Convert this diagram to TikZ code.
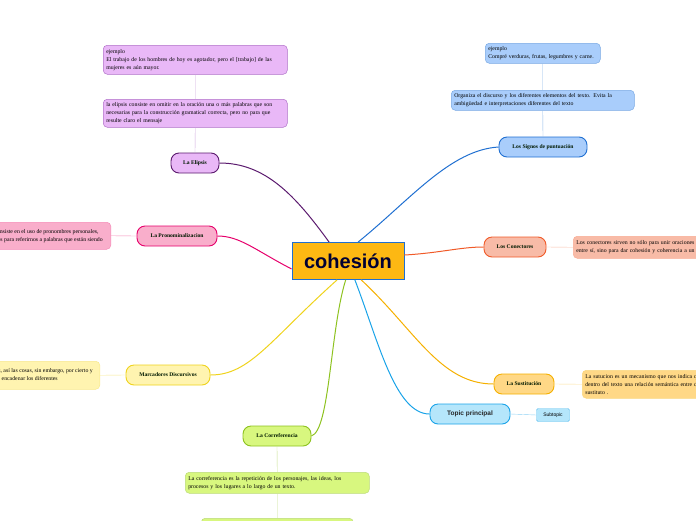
\documentclass[tikz,border=0pt]{standalone}
\usepackage{fontspec}
\setmainfont{Liberation Serif}
\setsansfont{Liberation Sans}
\begin{document}
\begin{tikzpicture}[x=1pt,y=-1pt,
 topic/.style={draw,rounded corners=8pt,line width=0.9pt,minimum height=20pt,font=\fontsize{5.6}{6.6}\selectfont\bfseries,text=black!75!green!40!black,inner xsep=4pt},
 desc/.style={draw,rounded corners=4pt,line width=0.5pt,align=left,font=\fontsize{5.8}{8}\selectfont,inner sep=3pt,anchor=north west},
 link/.style={line width=1pt}]
\useasboundingbox (0,0) rectangle (696,520);
\definecolor{pu}{HTML}{E9B8F7}\definecolor{puD}{HTML}{5B1A6E}\definecolor{puB}{HTML}{B070C8}
\definecolor{pk}{HTML}{F9AECB}\definecolor{pkD}{HTML}{E6006B}
\definecolor{ye}{HTML}{FFF4B0}\definecolor{yeD}{HTML}{EFD31C}
\definecolor{gr}{HTML}{D8F77F}\definecolor{grD}{HTML}{8DC21F}
\definecolor{cy}{HTML}{B5E6FB}\definecolor{cyD}{HTML}{1AA3E8}
\definecolor{or}{HTML}{FFD886}\definecolor{orD}{HTML}{F5B000}
\definecolor{sa}{HTML}{F8BBA7}\definecolor{saD}{HTML}{F05A28}
\definecolor{bl}{HTML}{A9CDFB}\definecolor{blD}{HTML}{1F6FD1}
\definecolor{ce}{HTML}{FDB813}

\node[draw=blD,fill=ce,line width=0.8pt,minimum width=112pt,minimum height=37pt,font=\sffamily\bfseries\fontsize{20}{22}\selectfont,text=black!80!blue] (c) at (348,261) {cohesión};

% Elipsis
\node[topic,fill=pu,draw=puD,minimum width=48pt] (el) at (195,163) {La Elipsis};
\node[desc,fill=pu,draw=puB,text width=178pt,minimum height=28pt] (el1) at (103,99) {la elipsis consiste en omitir en la oración una o más palabras que son\\necesarias para la construcción gramatical correcta, pero no para que\\resulte claro el mensaje};
\node[desc,fill=pu,draw=puB,text width=178pt,minimum height=29pt] (el2) at (103,45) {ejemplo\\El trabajo de los hombres de hoy es agotador, pero el [trabajo] de las\\mujeres es aún mayor.};
\draw[puB!60] (el.north) -- (el1.south) (el1.north) -- (el2.south);
\draw[link,puD] (c.135) .. controls (295,195) and (265,163) .. (el.east);

% Pronominalizacion
\node[topic,fill=pk,draw=pkD,minimum width=80pt] (pr) at (177,236) {La Pronominalizacion};
\node[desc,fill=pk,draw=pk!80!pkD,minimum height=27pt,anchor=north east,inner xsep=8pt] (pr1) at (111,222) {La pronominalización consiste en el uso de pronombres personales,\\demostrativos y posesivos para referirnos a palabras que están siendo};
\draw[pk!80!pkD] (pr.west) -- (pr1.east);
\draw[link,pkD] (c.west) ++(0,8) .. controls (255,250) and (240,236) .. (pr.east);

% Marcadores
\node[topic,fill=ye,draw=yeD,minimum width=84pt] (ma) at (168,375) {Marcadores Discursivos};
\node[desc,fill=ye,draw=yeD!50,minimum height=28pt,anchor=north east,inner xsep=7pt] (ma1) at (100,361) {Son palabras como además, así las cosas, sin embargo, por cierto y\\otras, que son utilizadas en encadenar los diferentes};
\draw[yeD!50] (ma.west) -- (ma1.east);
\draw[link,yeD] (c.240) .. controls (270,340) and (250,375) .. (ma.east);

% Correferencia
\node[topic,fill=gr,draw=grD,minimum width=68pt] (co) at (277,436) {La Correferencia};
\node[desc,fill=gr,draw=grD!60,text width=178pt,minimum height=21pt] (co1) at (185,472) {La correferencia es la repetición de los personajes, las ideas, los\\procesos y los lugares a lo largo de un texto.};
\node[desc,fill=gr,draw=grD!60,minimum width=152pt,minimum height=20pt] (co2) at (201,518) {};
\draw[grD!50] (co.south) -- (co1.north) (co1.south) -- (co2.north);
\draw[link,grD] (c.263) .. controls (330,330) and (330,430) .. (co.east);

% Topic principal
\node[topic,fill=cy,draw=cyD,minimum width=80pt,font=\sffamily\bfseries\fontsize{6.5}{7}\selectfont,text=black!85] (tp) at (470,414) {Topic principal};
\node[draw=cyD!70,fill=cy,rounded corners=1.5pt,minimum width=33pt,minimum height=13pt,inner sep=1pt,font=\sffamily\fontsize{5}{5}\selectfont] (st) at (553,415) {Subtopic};
\draw[cyD!50] (tp.east) -- (st.west);
\draw[link,cyD] (c.290) .. controls (378,340) and (395,414) .. (tp.west);

% Sustitucion
\node[topic,fill=or,draw=orD,minimum width=60pt] (su) at (524,384) {La Sustitución};
\node[desc,fill=or,draw=orD!50,text width=184pt,minimum height=28pt] (su1) at (582,370) {La sutucion es un mecanismo que nos indica que\\dentro del texto una relación semántica entre dos\\sustituto .};
\draw[orD!40] (su.east) -- (su1.west);
\draw[link,orD] (c.305) .. controls (415,330) and (440,384) .. (su.west);

% Conectores
\node[topic,fill=sa,draw=saD,minimum width=62pt] (cn) at (515,247) {Los Conectores};
\node[desc,fill=sa,draw=saD!50,text width=184pt,minimum height=22pt] (cn1) at (573,236) {Los conectores sirven no sólo para unir oraciones\\entre sí, sino para dar cohesión y coherencia a un texto.};
\draw[saD!40] (cn.east) -- (cn1.west);
\draw[link,saD] (c.east) ++(0,-6) .. controls (440,253) and (460,247) .. (cn.west);

% Signos
\node[topic,fill=bl,draw=blD,minimum width=88pt] (sg) at (543,147) {Los Signos de puntuación};
\node[desc,fill=bl,draw=blD!60,text width=177pt,minimum height=20pt] (sg1) at (451,90) {Organiza el discurso y los diferentes elementos del texto. Evita la\\ambigüedad e interpretaciones diferentes del texto};
\node[desc,fill=bl,draw=blD!60,text width=109pt,minimum height=20pt] (sg2) at (485,43) {ejemplo\\Compré verduras, frutas, legumbres y carne.};
\draw[blD!50] (sg.north) -- (sg1.south) (sg1.north) -- (sg2.south);
\draw[link,blD] (c.62) .. controls (410,200) and (450,150) .. (sg.west);
\end{tikzpicture}
\end{document}
